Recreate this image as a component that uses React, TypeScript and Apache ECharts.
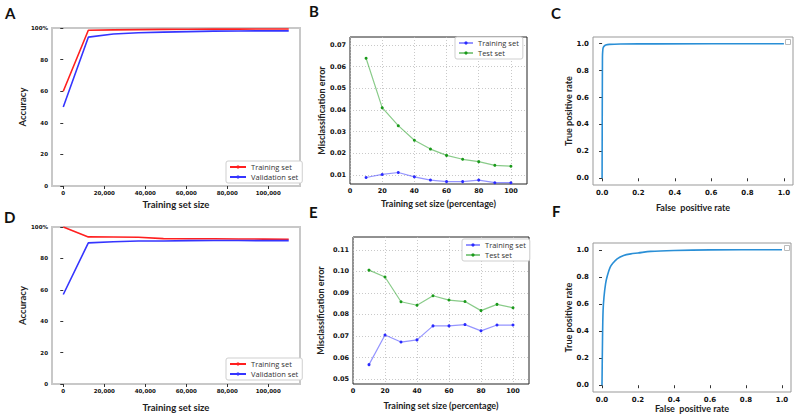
import React, { useEffect, useRef } from "react";
import * as echarts from "echarts";

// ---------- Data ----------
const sizeTicks = [0, 20000, 40000, 60000, 80000, 100000];
const accSizes = [0, 12222, 24444, 36667, 48889, 61111, 73333, 85556, 97778, 110000];
const aTrain = [60, 98.6, 98.8, 99.0, 99.1, 99.2, 99.3, 99.3, 99.4, 99.4];
const aVal = [50, 94.2, 96.2, 97.0, 97.4, 97.7, 98.0, 98.1, 98.2, 98.2];
const dTrain = [100, 93.7, 93.6, 93.5, 92.6, 92.5, 92.5, 92.4, 92.3, 92.2];
const dVal = [57, 89.9, 90.6, 91.1, 91.1, 91.3, 91.4, 91.4, 91.3, 91.3];
const accTicks = [0, 20, 40, 60, 80, 100];

const pctSizes = [10, 20, 30, 40, 50, 60, 70, 80, 90, 100];
const pctTicks = [0, 20, 40, 60, 80, 100];
const bTrain = [0.0089, 0.0103, 0.0112, 0.0092, 0.0077, 0.0070, 0.0070, 0.0077, 0.0065, 0.0065];
const bTest = [0.0639, 0.0411, 0.0328, 0.0261, 0.0220, 0.0191, 0.0173, 0.0162, 0.0145, 0.0141];
const bTicks = [0.01, 0.02, 0.03, 0.04, 0.05, 0.06, 0.07];
const eTrain = [0.0567, 0.0705, 0.0672, 0.0682, 0.0747, 0.0747, 0.0753, 0.0724, 0.0751, 0.0751];
const eTest = [0.1006, 0.0974, 0.0859, 0.0843, 0.0887, 0.0867, 0.0860, 0.0818, 0.0847, 0.0831];
const eTicks = [0.05, 0.06, 0.07, 0.08, 0.09, 0.10, 0.11];

const rocTicks = [0, 0.2, 0.4, 0.6, 0.8, 1.0];
const cFpr = [0, 0.002, 0.004, 0.006, 0.01, 0.02, 0.04, 0.1, 0.3, 1.0];
const cTpr = [0, 0.9, 0.955, 0.97, 0.98, 0.99, 0.995, 0.998, 0.999, 1.0];
const fFpr = [0, 0.003, 0.006, 0.011, 0.02, 0.03, 0.045, 0.06, 0.084, 0.12, 0.16, 0.2, 0.27, 0.4, 0.6, 1.0];
const fTpr = [0, 0.35, 0.55, 0.65, 0.75, 0.81, 0.87, 0.90, 0.933, 0.958, 0.97, 0.976, 0.988, 0.995, 0.999, 1.0];

const legendNames: Record<string, string> = {
  aT: "Training set", aV: "Validation set",
  dT: "Training set", dV: "Validation set",
  bT: "Training set", bS: "Test set",
  eT: "Training set", eS: "Test set",
};

const zip = (xs: number[], ys: number[]) => xs.map((x, i) => [x, ys[i]]);

const TICKFONT = "DejaVu Sans";
const TITLEFONT = "Lato";

function App() {
  const ref = useRef<HTMLDivElement>(null);
  useEffect(() => {
    document.body.style.margin = "0";
    if (!ref.current) return;
    const chart = echarts.init(ref.current, undefined, { renderer: "svg" });

    const grids = [
      { left: 52, top: 28, width: 248, height: 158 }, // A
      { left: 350, top: 37, width: 177, height: 147 }, // B
      { left: 593, top: 37, width: 200, height: 148 }, // C
      { left: 52, top: 227, width: 248, height: 157 }, // D
      { left: 353, top: 237, width: 176, height: 147 }, // E
      { left: 593, top: 243, width: 198, height: 149 }, // F
    ];
    const gridStyles = [
      { borderColor: "#c8c8c8", borderWidth: 2 },
      { borderColor: "#222", borderWidth: 1 },
      { borderColor: "#999", borderWidth: 1 },
      { borderColor: "#c8c8c8", borderWidth: 2 },
      { borderColor: "#222", borderWidth: 1 },
      { borderColor: "#999", borderWidth: 1 },
    ];

    const nameStyle = (size: number) => ({
      fontFamily: TITLEFONT, fontWeight: "bold" as const, fontSize: size, color: "#222",
    });
    const labelStyle = (size: number, fmt: (v: number) => string, custom: number[], margin = 3) => ({
      fontFamily: TICKFONT, fontWeight: "bold" as const, fontSize: size, color: "#111",
      margin, formatter: fmt, customValues: custom,
    });

    const accX = (grid: number, gap: number) => ({
      type: "value", gridIndex: grid, min: -5500, max: 115500,
      name: "Training set size", nameLocation: "middle", nameGap: gap, nameTextStyle: nameStyle(9.5),
      axisLine: { show: false },
      axisTick: { show: true, length: 3, lineStyle: { color: "#333" }, customValues: sizeTicks },
      axisLabel: labelStyle(5.5, (v: number) => v.toLocaleString("en-US"), sizeTicks, 4),
      splitLine: { show: false },
    });
    const accY = (grid: number) => ({
      type: "value", gridIndex: grid, min: 0, max: 100,
      name: "Accuracy", nameLocation: "middle", nameGap: 14, nameTextStyle: nameStyle(9.5),
      axisLine: { show: false },
      axisTick: { show: true, length: 3, lineStyle: { color: "#333" }, customValues: accTicks },
      axisLabel: labelStyle(5.5, (v: number) => (v === 100 ? "100%" : String(v)), accTicks, 4),
      splitLine: { show: false },
    });
    const pctX = (grid: number, gap: number) => ({
      type: "value", gridIndex: grid, min: 0, max: 110,
      name: "Training set size (percentage)", nameLocation: "middle", nameGap: gap, nameTextStyle: nameStyle(9),
      axisLine: { show: false },
      axisTick: { show: false, customValues: pctTicks },
      axisLabel: labelStyle(6.5, (v: number) => String(v), pctTicks, 3),
      splitLine: { show: true, lineStyle: { color: "#bbb", type: [1, 2], width: 0.8 } },
    });
    const errY = (grid: number, min: number, max: number, ticks: number[], gap: number) => ({
      type: "value", gridIndex: grid, min, max,
      name: "Misclassification error", nameLocation: "middle", nameGap: gap, nameTextStyle: nameStyle(9),
      axisLine: { show: false },
      axisTick: { show: false, customValues: ticks },
      axisLabel: labelStyle(6.5, (v: number) => v.toFixed(2), ticks, 4),
      splitLine: { show: true, lineStyle: { color: "#bbb", type: [1, 2], width: 0.8 } },
    });
    const rocX = (grid: number, gap: number) => ({
      type: "value", gridIndex: grid, min: -0.05, max: 1.05,
      name: "False  positive rate", nameLocation: "middle", nameGap: gap, nameTextStyle: nameStyle(9),
      axisLine: { show: false },
      axisTick: { show: true, length: 3, lineStyle: { color: "#333" }, customValues: rocTicks },
      axisLabel: labelStyle(7, (v: number) => v.toFixed(1), rocTicks, 4),
      splitLine: { show: false },
    });
    const rocY = (grid: number) => ({
      type: "value", gridIndex: grid, min: -0.05, max: 1.05,
      name: "True positive rate", nameLocation: "middle", nameGap: 20, nameTextStyle: nameStyle(9),
      axisLine: { show: false },
      axisTick: { show: true, length: 3, lineStyle: { color: "#333" }, customValues: rocTicks },
      axisLabel: labelStyle(7, (v: number) => v.toFixed(1), rocTicks, 4),
      splitLine: { show: false },
    });

    const lineA = (name: string, data: number[], color: string, gi: number) => ({
      name, type: "line", xAxisIndex: gi, yAxisIndex: gi, data: zip(accSizes, data),
      symbol: "none", lineStyle: { color, width: 1.6 }, itemStyle: { color },
    });
    const lineB = (name: string, data: number[], color: string, lineColor: string, gi: number) => ({
      name, type: "line", xAxisIndex: gi, yAxisIndex: gi, data: zip(pctSizes, data),
      symbol: "circle", symbolSize: 3, showSymbol: true,
      lineStyle: { color: lineColor, width: 1.2 }, itemStyle: { color },
    });
    const roc = (fpr: number[], tpr: number[], gi: number) => ({
      name: "roc" + gi, type: "line", xAxisIndex: gi, yAxisIndex: gi, data: zip(fpr, tpr),
      symbol: "none", smooth: 0.3, lineStyle: { color: "#2a8fd6", width: 1.6 },
    });

    const legend = (data: string[], left: number, top: number, iconW: number) => ({
      data, left, top, orient: "vertical", itemWidth: iconW, itemHeight: 4, itemGap: 2,
      padding: [2, 4, 2, 3], backgroundColor: "#fff", borderColor: "#cfcfcf", borderWidth: 1, borderRadius: 2,
      textStyle: { fontFamily: "Open Sans", fontSize: 7.5, lineHeight: 8, color: "#333" },
      formatter: (n: string) => legendNames[n] || n,
      selectedMode: false,
    });

    const panelLabel = (text: string, left: number, top: number) => ({
      text, left, top, padding: 0,
      textStyle: { fontFamily: TITLEFONT, fontWeight: "bold", fontSize: 15, color: "#111" },
    });

    const option: any = {
      animation: false,
      backgroundColor: "#fff",
      title: [
        panelLabel("A", 5, 5), panelLabel("B", 309, 3), panelLabel("C", 551, 5),
        panelLabel("D", 4, 209), panelLabel("E", 309, 204), panelLabel("F", 552, 203),
      ],
      grid: grids.map((g, i) => ({ ...g, show: true, backgroundColor: "transparent", ...gridStyles[i] })),
      xAxis: [accX(0, 13), pctX(1, 15), rocX(2, 18), accX(3, 18), pctX(4, 17), rocX(5, 10)],
      yAxis: [
        accY(0),
        errY(1, 0.0059, 0.0737, bTicks, 24),
        rocY(2),
        accY(3),
        errY(4, 0.0477, 0.116, eTicks, 28),
        rocY(5),
      ],
      legend: [
        legend(["aT", "aV"], 226, 161, 16),
        legend(["bT", "bS"], 455, 37, 14),
        legend(["dT", "dV"], 226, 358, 16),
        legend(["eT", "eS"], 462, 239, 14),
      ],
      series: [
        lineA("aT", aTrain, "#ff1f1f", 0),
        lineA("aV", aVal, "#3535ff", 0),
        lineB("bT", bTrain, "#2a2aff", "rgba(60,60,255,0.55)", 1),
        lineB("bS", bTest, "#1a9a1a", "rgba(40,160,40,0.55)", 1),
        roc(cFpr, cTpr, 2),
        lineA("dT", dTrain, "#ff1f1f", 3),
        lineA("dV", dVal, "#3535ff", 3),
        lineB("eT", eTrain, "#2a2aff", "rgba(60,60,255,0.55)", 4),
        lineB("eS", eTest, "#1a9a1a", "rgba(40,160,40,0.55)", 4),
        roc(fFpr, fTpr, 5),
      ],
      graphic: [
        { type: "rect", left: 785, top: 39, shape: { width: 5, height: 5 }, style: { fill: "#fff", stroke: "#bbb", lineWidth: 1 } },
        { type: "rect", left: 784, top: 245, shape: { width: 5, height: 5 }, style: { fill: "#fff", stroke: "#bbb", lineWidth: 1 } },
      ],
    };
    chart.setOption(option);
    return () => chart.dispose();
  }, []);
  return <div ref={ref} style={{ width: 800, height: 416 }} />;
}

export default App;
